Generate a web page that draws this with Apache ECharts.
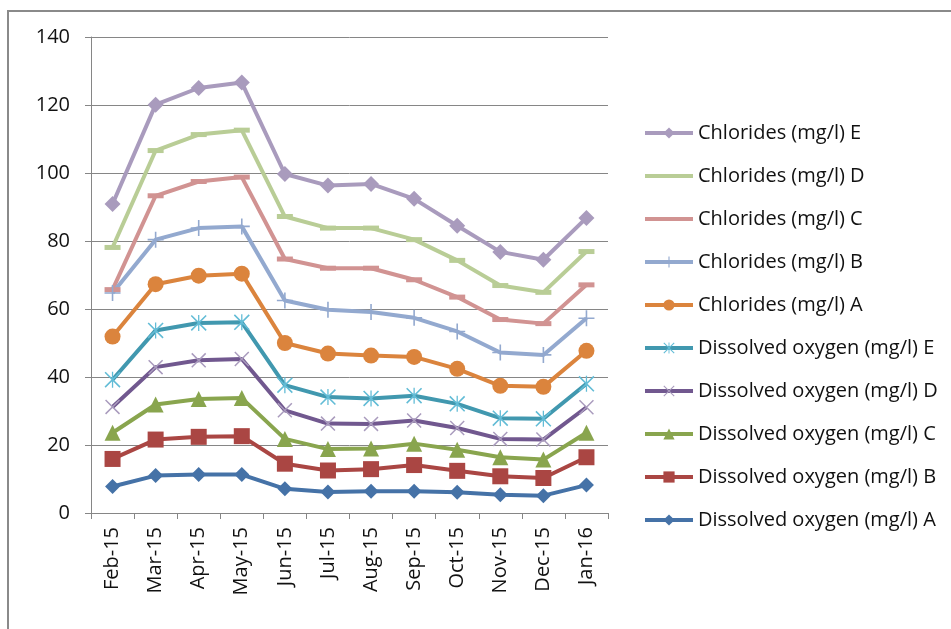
<!DOCTYPE html>
<html>
<head>
<meta charset="utf-8">
<script src="https://cdn.jsdelivr.net/npm/echarts@6/dist/echarts.min.js"></script>
<style>
  html, body { margin: 0; padding: 0; background: #fff; }
  #chart { width: 951px; height: 629px; }
</style>
</head>
<body>
<div id="chart"></div>
<script>
// months on the x axis
const months = ['Feb-15', 'Mar-15', 'Apr-15', 'May-15', 'Jun-15', 'Jul-15', 'Aug-15', 'Sep-15', 'Oct-15', 'Nov-15', 'Dec-15', 'Jan-16'];

// values as plotted
const doA = [7.8, 11.0, 11.3, 11.3, 7.1, 6.2, 6.4, 6.4, 6.1, 5.4, 5.1, 8.2];
const doB = [15.9, 21.6, 22.4, 22.6, 14.5, 12.5, 12.9, 14.1, 12.4, 10.8, 10.3, 16.4];
const doC = [23.6, 31.9, 33.5, 33.8, 21.8, 18.8, 19.0, 20.4, 18.6, 16.4, 15.7, 23.6];
const doD = [31.2, 42.9, 44.9, 45.3, 30.2, 26.3, 26.2, 27.2, 25.0, 21.8, 21.6, 31.1];
const doE = [39.2, 53.7, 55.9, 56.1, 37.6, 34.1, 33.7, 34.5, 32.1, 27.9, 27.7, 38.0];
const clA = [51.9, 67.3, 69.8, 70.4, 50.0, 46.9, 46.3, 45.9, 42.4, 37.4, 37.1, 47.7];
const clB = [64.7, 80.4, 83.8, 84.3, 62.5, 59.8, 59.1, 57.4, 53.4, 47.2, 46.5, 57.3];
const clC = [65.7, 93.3, 97.5, 98.8, 74.7, 72.0, 72.0, 68.6, 63.5, 56.9, 55.7, 67.1];
const clD = [78.1, 106.6, 111.3, 112.6, 87.2, 83.8, 83.8, 80.4, 74.3, 66.9, 64.9, 76.9];
const clE = [90.9, 120.1, 125.0, 126.6, 99.7, 96.3, 96.8, 92.4, 84.5, 76.8, 74.5, 86.8];

const yTicks = [0, 20, 40, 60, 80, 100, 120, 140];

// marker shapes
const plusPath = 'path://M4.5,0H5.5V10H4.5Z M0,4.5H10V5.5H0Z';
const crossPath = 'path://M0.7,0L10,9.3L9.3,10L0,0.7Z M9.3,0L10,0.7L0.7,10L0,9.3Z';
const starPath = 'path://M4.6,0H5.4V10H4.6Z M0.7,0L10,9.3L9.3,10L0,0.7Z M9.3,0L10,0.7L0.7,10L0,9.3Z';

const seriesDefs = [
  { name: 'Chlorides (mg/l) E', data: clE, color: '#A99BBD', symbol: 'diamond', size: 16 },
  { name: 'Chlorides (mg/l) D', data: clD, color: '#B9CD96', symbol: 'rect', size: [16, 5], noLegendMark: true },
  { name: 'Chlorides (mg/l) C', data: clC, color: '#D19392', symbol: 'rect', size: [16, 5], noLegendMark: true },
  { name: 'Chlorides (mg/l) B', data: clB, color: '#93A9CF', symbol: plusPath, size: 16 },
  { name: 'Chlorides (mg/l) A', data: clA, color: '#DB843D', symbol: 'circle', size: 16 },
  { name: 'Dissolved oxygen (mg/l) E', data: doE, color: '#4198AF', symbol: starPath, size: 16, markColor: '#62BCD6' },
  { name: 'Dissolved oxygen (mg/l) D', data: doD, color: '#71588F', symbol: crossPath, size: 15, markColor: '#A99BBD' },
  { name: 'Dissolved oxygen (mg/l) C', data: doC, color: '#89A54E', symbol: 'triangle', size: 16 },
  { name: 'Dissolved oxygen (mg/l) B', data: doB, color: '#AA4643', symbol: 'rect', size: 16 },
  { name: 'Dissolved oxygen (mg/l) A', data: doA, color: '#4572A7', symbol: 'diamond', size: 15 }
];

const chart = echarts.init(document.getElementById('chart'));

const option = {
  animation: false,
  backgroundColor: '#fff',
  textStyle: { fontFamily: 'Open Sans' },
  graphic: [{
    type: 'rect',
    shape: { x: 8, y: 11, width: 1200, height: 1000 },
    style: { fill: 'none', stroke: '#8a8a8a', lineWidth: 2 },
    silent: true
  }],
  grid: { left: 91, right: 343, top: 37, bottom: 116 },
  legend: {
    orient: 'vertical',
    left: 638,
    top: 118,
    itemWidth: 48,
    itemHeight: 14,
    itemGap: 23,
    lineStyle: { width: 4 },
    textStyle: { fontSize: 20, color: '#111', fontFamily: 'Open Sans' },
    data: seriesDefs.map(s => s.noLegendMark
      ? { name: s.name, itemStyle: { opacity: 0 } }
      : s.name)
  },
  xAxis: {
    type: 'category',
    data: months,
    boundaryGap: true,
    axisLine: { lineStyle: { color: '#868686', width: 1 } },
    axisTick: { show: true, length: 6, alignWithLabel: false, lineStyle: { color: '#868686' } },
    axisLabel: { rotate: 90, fontSize: 20, color: '#111', margin: 14, interval: 0 }
  },
  yAxis: {
    type: 'value',
    min: yTicks[0],
    max: yTicks[yTicks.length - 1],
    interval: 20,
    axisLine: { show: true, lineStyle: { color: '#868686', width: 1 } },
    axisTick: { show: true, length: 6, lineStyle: { color: '#868686' } },
    axisLabel: { fontSize: 20, color: '#111', margin: 21 },
    splitLine: { lineStyle: { color: '#868686', width: 1 } }
  },
  series: seriesDefs.map(s => ({
    name: s.name,
    type: 'line',
    data: s.data,
    symbol: s.symbol,
    symbolSize: s.size,
    showAllSymbol: true,
    lineStyle: { color: s.color, width: 4 },
    itemStyle: { color: s.markColor || s.color, borderWidth: 0 }
  }))
};

chart.setOption(option);
</script>
</body>
</html>
